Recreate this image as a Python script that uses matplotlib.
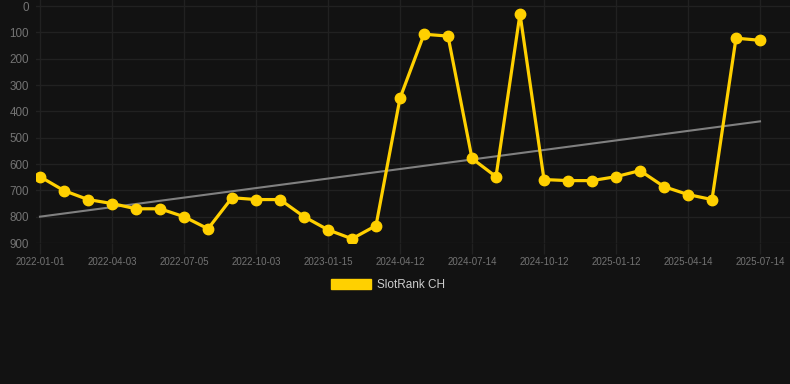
import numpy as np
import matplotlib
matplotlib.use("Agg")
import matplotlib.pyplot as plt
from matplotlib.patches import Patch

# ---- data ----
ranks = [648, 701, 735, 750, 770, 770, 800, 846, 728, 735,
         735, 800, 850, 884, 834, 350, 107, 114, 579, 648,
         30, 659, 663, 663, 648, 625, 686, 716, 735, 122,
         130]
tick_labels = ["2022-01-01", "2022-04-03", "2022-07-05", "2022-10-03",
               "2023-01-15", "2024-04-12", "2024-07-14", "2024-10-12",
               "2025-01-12", "2025-04-14", "2025-07-14"]
trend_ends = [800, 438]
series_name = "SlotRank CH"

bg = "#121212"
yellow = "#FFD000"
grid_c = "#212121"
tick_c = "#737373"

plt.rcParams['font.family'] = ['Liberation Sans', 'DejaVu Sans']

fig = plt.figure(figsize=(7.9, 3.84), dpi=100, facecolor=bg)
ax = fig.add_axes([36 / 790, 1 - 243 / 384, 754 / 790, 243 / 384])
ax.set_facecolor(bg)

x = np.arange(len(ranks))
ax.plot([x[0], x[-1]], trend_ends, color="#808080", lw=1.5, zorder=2)
ax.plot(x, ranks, color=yellow, lw=2.3, marker="o", ms=7.5, zorder=3)

# 24 px per category step
ax.set_xlim(-4 / 24, 30 + 30 / 24)
ax.set_ylim(900, -23)
ax.set_yticks(range(0, 901, 100))
ax.set_xticks(x[::3])
ax.set_xticklabels(tick_labels)

ax.grid(True, color=grid_c, lw=1)
ax.set_axisbelow(True)
for s in ax.spines.values():
    s.set_visible(False)
ax.tick_params(axis="x", colors=grid_c, length=8, width=1, labelcolor=tick_c,
               labelsize=7, pad=2)
ax.tick_params(axis="y", length=0, labelcolor=tick_c, labelsize=8.4, pad=5)

leg = fig.legend(handles=[Patch(color=yellow, label=series_name)],
                 loc="center", bbox_to_anchor=(388 / 790, 1 - 285 / 384),
                 frameon=False, fontsize=8.5, labelcolor="#cccccc",
                 handlelength=3.4, handleheight=0.85, handletextpad=0.5)

fig.savefig("out.png", dpi=100, facecolor=bg)
